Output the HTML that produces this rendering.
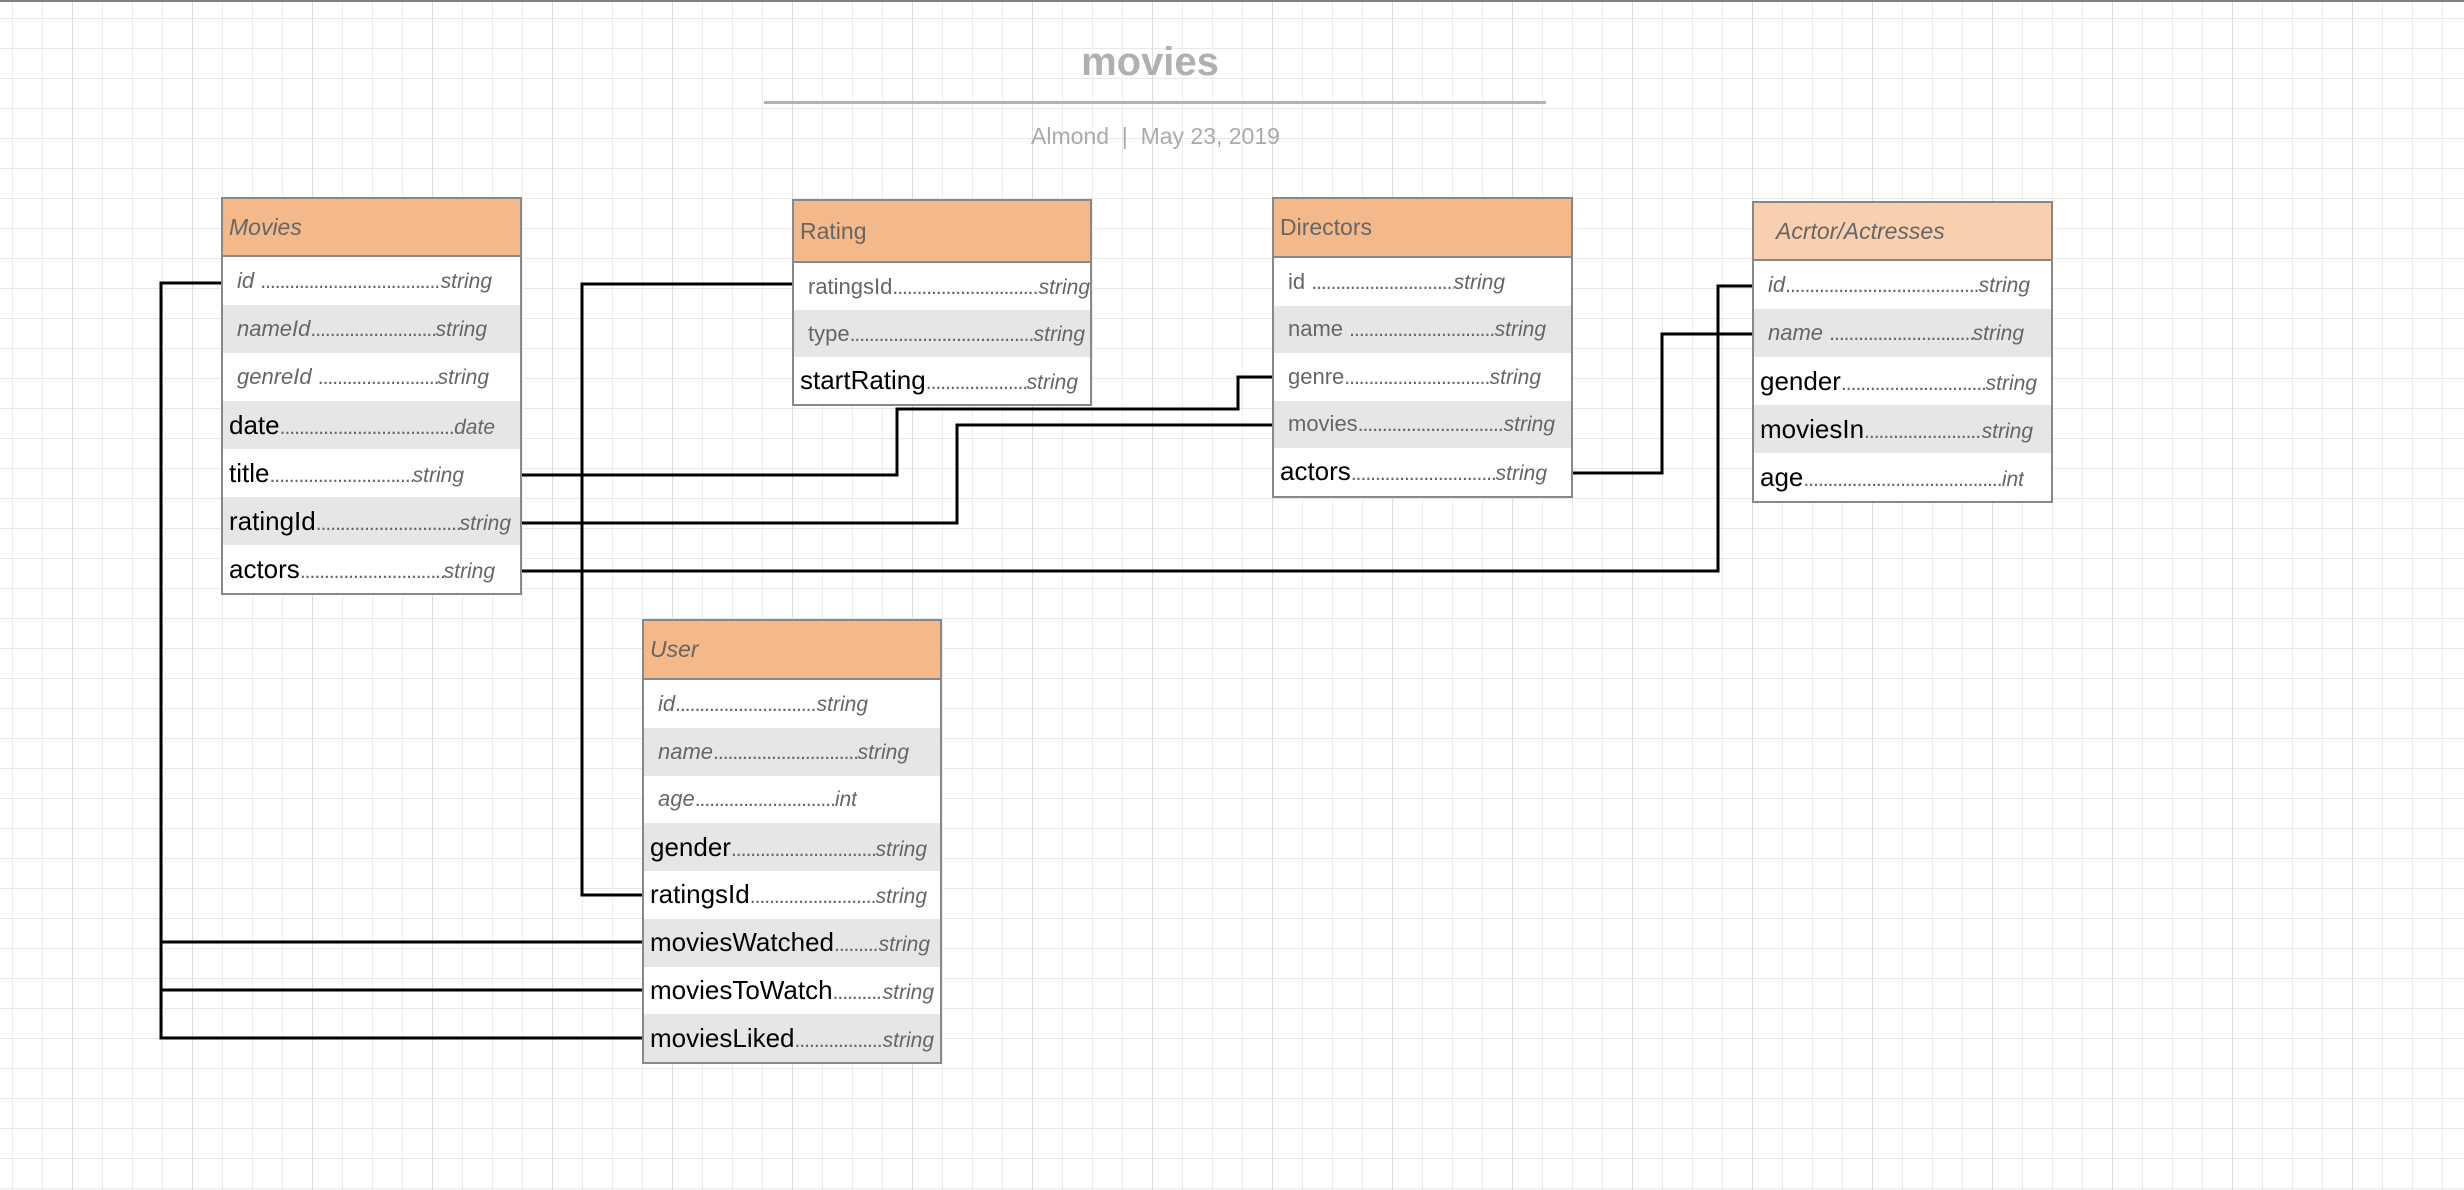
<!DOCTYPE html>
<html><head><meta charset="utf-8"><style>
html,body{margin:0;padding:0}
body{width:2464px;height:1190px;position:relative;overflow:hidden;font-family:"Liberation Sans",sans-serif;
background-color:#fff;
background-image:
linear-gradient(to right,#dcdcdc 1px,transparent 1px),
linear-gradient(to right,#ededed 1px,transparent 1px),
linear-gradient(to bottom,#e8e8e8 1px,transparent 1px);
background-size:120px 100%,30px 100%,100% 30px;
background-position:72px 0,12px 0,0 18px;}
.top{position:absolute;left:0;top:0;width:2464px;height:2px;background:#808080}
.title{position:absolute;left:0;width:2300px;top:40px;text-align:center;font-weight:bold;font-size:40px;color:#b0b0b0}
.hr{position:absolute;left:764px;width:782px;top:101px;height:3px;background:#b3b3b3}
.sub{position:absolute;left:0;width:2311px;top:123px;text-align:center;font-size:23px;color:#aaa}
.t{position:absolute;border:2px solid #888;background:#fff;box-sizing:border-box}
.h{height:60px;background:#f3b98a;border-bottom:2px solid #888;box-sizing:border-box;display:flex;align-items:center;padding-left:6px;font-size:23px;color:#666}
.h.i{font-style:italic}
.r{height:48px;display:flex;align-items:center;white-space:nowrap}
.r.g{background:#e6e6e6}
.f{display:flex;align-items:baseline;overflow:hidden}
.k{font-size:22px;color:#666;font-style:italic}
.k.n{font-style:normal}
.k.b{font-size:26px;color:#000;font-style:normal}
.d{flex:1;overflow:hidden;color:#666;font-size:21px;letter-spacing:-1px}
.y{font-size:21px;color:#666;font-style:italic}
svg{position:absolute;left:0;top:0}
</style></head><body>
<div class="top"></div>
<div class="title">movies</div>
<div class="hr"></div>
<div class="sub">Almond &nbsp;|&nbsp; May 23, 2019</div>

<!-- Movies -->
<div class="t" style="left:221px;top:197px;width:301px">
<div class="h i" style="height:58px">Movies</div>
<div class="r" style="padding-left:14px"><div class="f" style="width:255px"><span class="k">id&nbsp;</span><span class="d">........................................................</span><span class="y">string</span></div></div>
<div class="r g" style="padding-left:14px"><div class="f" style="width:250px"><span class="k">nameId</span><span class="d">........................................................</span><span class="y">string</span></div></div>
<div class="r" style="padding-left:14px"><div class="f" style="width:252px"><span class="k">genreId&nbsp;</span><span class="d">........................................................</span><span class="y">string</span></div></div>
<div class="r g" style="padding-left:6px"><div class="f" style="width:266px"><span class="k b">date</span><span class="d">........................................................</span><span class="y">date</span></div></div>
<div class="r" style="padding-left:6px"><div class="f" style="width:235px"><span class="k b">title</span><span class="d">........................................................</span><span class="y">string</span></div></div>
<div class="r g" style="padding-left:6px"><div class="f" style="width:282px"><span class="k b">ratingId</span><span class="d">........................................................</span><span class="y">string</span></div></div>
<div class="r" style="padding-left:6px"><div class="f" style="width:266px"><span class="k b">actors</span><span class="d">........................................................</span><span class="y">string</span></div></div>
</div>

<!-- Rating -->
<div class="t" style="left:792px;top:199px;width:300px">
<div class="h" style="height:62px">Rating</div>
<div class="r" style="padding-left:14px;height:47px"><div class="f" style="width:283px"><span class="k n">ratingsId</span><span class="d">........................................................</span><span class="y">string</span></div></div>
<div class="r g" style="padding-left:14px;height:47px"><div class="f" style="width:277px"><span class="k n">type</span><span class="d">........................................................</span><span class="y">string</span></div></div>
<div class="r" style="padding-left:6px;height:47px"><div class="f" style="width:278px"><span class="k b">startRating</span><span class="d">........................................................</span><span class="y">string</span></div></div>
</div>

<!-- Directors -->
<div class="t" style="left:1272px;top:197px;width:301px">
<div class="h" style="height:59px">Directors</div>
<div class="r" style="padding-left:14px;height:47.5px"><div class="f" style="width:217px"><span class="k n">id&nbsp;</span><span class="d">........................................................</span><span class="y">string</span></div></div>
<div class="r g" style="padding-left:14px;height:47.5px"><div class="f" style="width:258px"><span class="k n">name&nbsp;</span><span class="d">........................................................</span><span class="y">string</span></div></div>
<div class="r" style="padding-left:14px;height:47.5px"><div class="f" style="width:253px"><span class="k n">genre</span><span class="d">........................................................</span><span class="y">string</span></div></div>
<div class="r g" style="padding-left:14px;height:47.5px"><div class="f" style="width:267px"><span class="k n">movies</span><span class="d">........................................................</span><span class="y">string</span></div></div>
<div class="r" style="padding-left:6px;height:47.5px"><div class="f" style="width:267px"><span class="k b">actors</span><span class="d">........................................................</span><span class="y">string</span></div></div>
</div>

<!-- Actors -->
<div class="t" style="left:1752px;top:201px;width:301px">
<div class="h i" style="background:#f8d0b0;padding-left:22px;height:58px">Acrtor/Actresses</div>
<div class="r" style="padding-left:14px;height:48px"><div class="f" style="width:262px"><span class="k">id</span><span class="d">........................................................</span><span class="y">string</span></div></div>
<div class="r g" style="padding-left:14px;height:48px"><div class="f" style="width:256px"><span class="k">name&nbsp;</span><span class="d">........................................................</span><span class="y">string</span></div></div>
<div class="r" style="padding-left:6px;height:48px"><div class="f" style="width:277px"><span class="k b">gender</span><span class="d">........................................................</span><span class="y">string</span></div></div>
<div class="r g" style="padding-left:6px;height:48px"><div class="f" style="width:273px"><span class="k b">moviesIn</span><span class="d">........................................................</span><span class="y">string</span></div></div>
<div class="r" style="padding-left:6px;height:48px"><div class="f" style="width:264px"><span class="k b">age</span><span class="d">........................................................</span><span class="y">int</span></div></div>
</div>

<!-- User -->
<div class="t" style="left:642px;top:619px;width:300px">
<div class="h i" style="height:59px">User</div>
<div class="r" style="padding-left:14px;height:47.75px"><div class="f" style="width:210px"><span class="k">id</span><span class="d">........................................................</span><span class="y">string</span></div></div>
<div class="r g" style="padding-left:14px;height:47.75px"><div class="f" style="width:251px"><span class="k">name</span><span class="d">........................................................</span><span class="y">string</span></div></div>
<div class="r" style="padding-left:14px;height:47.75px"><div class="f" style="width:199px"><span class="k">age</span><span class="d">........................................................</span><span class="y">int</span></div></div>
<div class="r g" style="padding-left:6px;height:47.75px"><div class="f" style="width:277px"><span class="k b">gender</span><span class="d">........................................................</span><span class="y">string</span></div></div>
<div class="r" style="padding-left:6px;height:47.75px"><div class="f" style="width:277px"><span class="k b">ratingsId</span><span class="d">........................................................</span><span class="y">string</span></div></div>
<div class="r g" style="padding-left:6px;height:47.75px"><div class="f" style="width:280px"><span class="k b">moviesWatched</span><span class="d">........................................................</span><span class="y">string</span></div></div>
<div class="r" style="padding-left:6px;height:47.75px"><div class="f" style="width:284px"><span class="k b">moviesToWatch</span><span class="d">........................................................</span><span class="y">string</span></div></div>
<div class="r g" style="padding-left:6px;height:47.75px"><div class="f" style="width:284px"><span class="k b">moviesLiked</span><span class="d">........................................................</span><span class="y">string</span></div></div>
</div>

<svg width="2464" height="1190" viewBox="0 0 2464 1190" fill="none" stroke="#000" stroke-width="3">
<polyline points="221,283 161,283 161,1038 642,1038"/>
<polyline points="161,942 642,942"/>
<polyline points="161,990 642,990"/>
<polyline points="792,284 582,284 582,895 642,895"/>
<polyline points="522,475 897,475 897,409 1238,409 1238,377 1272,377"/>
<polyline points="522,523 957,523 957,425 1272,425"/>
<polyline points="522,571 1718,571 1718,286 1752,286"/>
<polyline points="1573,473 1662,473 1662,334 1752,334"/>
</svg>
</body></html>
